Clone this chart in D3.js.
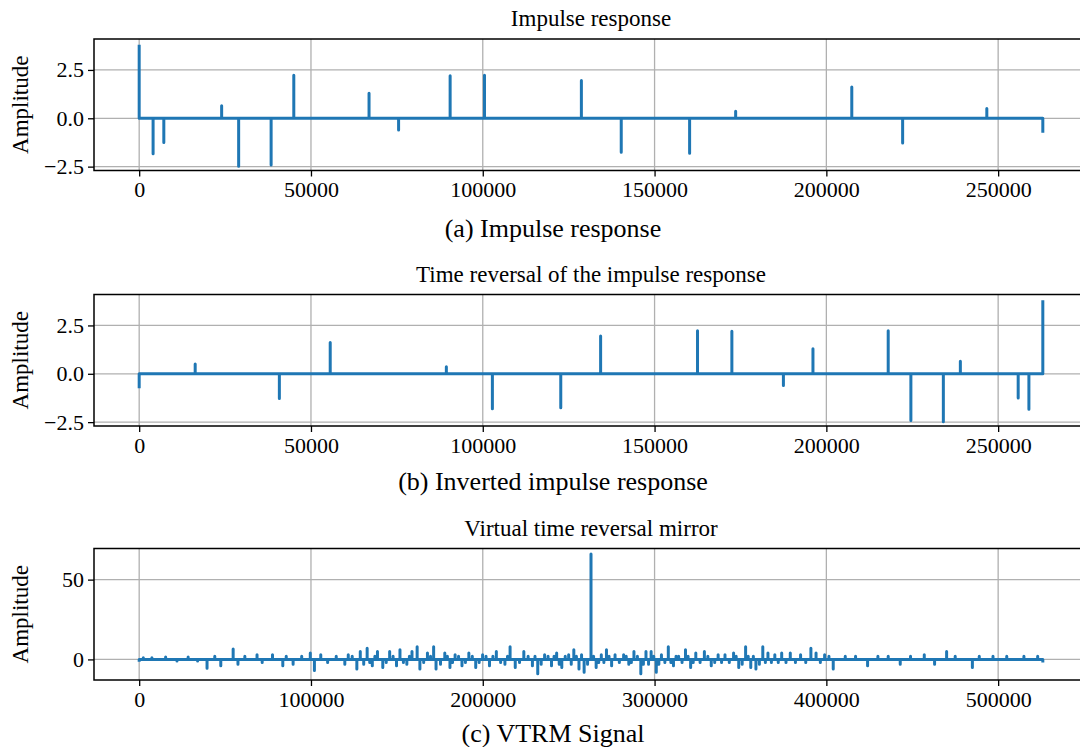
<!DOCTYPE html>
<html>
<head>
<meta charset="utf-8">
<script src="https://cdn.jsdelivr.net/npm/d3@7"></script>
<style>
  body { margin: 0; background: #fff; }
  text { font-family: "Liberation Serif", "Times New Roman", serif; fill: #000; }
</style>
</head>
<body>
<svg id="fig" width="1080" height="747"></svg>
<script>
// ---- data ----
var irLength = 263000;
var irX = [0, 4050, 7170, 24000, 28950, 38400, 45000, 66900, 75500, 90500, 100500,
           128700, 140300, 160200, 173600, 207400, 222200, 246700, 263000];
var irY = [3.8, -1.84, -1.25, 0.65, -2.48, -2.41, 2.23, 1.3, -0.61, 2.2, 2.23,
           1.95, -1.76, -1.81, 0.37, 1.62, -1.28, 0.51, -0.75];

var invX = [0, 16300, 40800, 55600, 89400, 102800, 122700, 134300, 162500, 172500,
            187500, 196100, 218000, 224600, 234050, 239000, 255830, 258950, 263000];
var invY = [-0.75, 0.51, -1.28, 1.62, 0.37, -1.81, -1.76, 1.95, 2.23, 2.2,
            -0.61, 1.3, 2.23, -2.41, -2.48, 0.65, -1.25, -1.84, 3.8];

var vtrmLength = 526000;
// bigger spikes of the VTRM signal
var vtrmSpikes = [
  [0,-1.5],[2400,1],[7400,1],[15400,1.5],[22000,-1],[28500,1.5],[34000,-1],[39500,-5.5],
  [44000,2],[47500,-4],[54700,6.5],[57500,-3],[61500,2],[68600,3],[71600,-2],[77600,3],
  [83600,-4],[85600,2],[89600,-3],[94600,2],[99600,4],[102000,-7],[105700,3],[109700,-2],
  [114700,2],[119700,-3],[121700,3],[126700,-6],[128700,5],[130700,-3],[132700,7],[135700,-4],
  [138700,5],[141800,-5],[145800,5],[149800,-4],[151800,6],[155800,-3],[158800,5],[161800,8],
  [163400,-6],[167800,4],[171400,8],[172800,-6],[177900,4],[180900,-5],[183900,3],[187900,-4],
  [191900,4],[195900,-5],[199900,3],[203900,-4],[207900,5],[212900,-3],[215900,8],[218900,-5],
  [223900,5],[228900,-4],[232000,-9],[236000,3],[240000,-4],[243000,4],[246000,-5],[250000,3],
  [253000,6],[256000,-6],[259000,-8],[263000,66],[266000,-5],[269000,3],[272000,6],[275000,-4],
  [277000,3],[282000,3],[285000,-3],[288000,5],[292000,-9],[295000,5],[298000,5],[301000,-8],
  [304000,3],[308000,8],[311000,-4],[314000,2],[318000,6],[321000,-5],[324000,4],[329000,5],
  [333000,-4],[337000,3],[341000,3],[346000,4],[349000,-5],[353000,8],[356000,-5],[359000,-6],
  [363000,8],[366000,4],[370000,3],[374000,4],[379000,4],[385000,3],[391000,7],[394000,4],
  [399000,3],[404000,-6],[411000,2],[417000,2],[424000,-4],[430000,2],[436000,2],[443000,-3],
  [449000,2],[457000,3],[463000,-3],[470000,5],[475000,2],[485000,-5],[489000,2],[497000,2],
  [505000,2],[515000,2],[523000,2],[526000,-2]
];
// small wiggles in the busy middle part
var vtrmSmall = [
  [124000,2],[134200,-2],[137200,2],[143800,-2],[147800,2],[153800,-2],[157300,2],[165600,-2],
  [169600,2],[175400,-3],[179400,2],[182400,-2],[185900,2],[189900,-2],[193900,2],[197900,-2],
  [201900,2],[205900,2],[210400,-2],[214400,2],[221400,-2],[226400,2],[230400,2],[234000,-3],
  [238000,2],[241500,2],[244500,-3],[248000,2],[251500,-3],[254500,2],[257500,3],[261000,-3],
  [264500,2],[267500,-2],[270500,-2],[273500,2],[279500,-2],[283500,2],[286500,-2],[290000,2],
  [293500,-3],[296500,-3],[299500,2],[302500,-3],[306000,-2],[309500,-2],[312500,2],[316000,-2],
  [319500,2],[322500,-2],[326500,-2],[331000,2],[335000,-2],[339000,-2],[343500,-2],[347500,2],
  [351000,-3],[354500,2],[357500,2],[361000,-3],[364500,-2],[368000,-2],[372000,-2],[376500,-2],
  [382000,-2],[388000,-2],[396500,-2],[401500,2]
];

var irTicksX = [0, 50000, 100000, 150000, 200000, 250000];
var irTicksY = [-2.5, 0, 2.5];
var vtrmTicksX = [0, 100000, 200000, 300000, 400000, 500000];
var vtrmTicksY = [0, 50];

var titles = ["Impulse response", "Time reversal of the impulse response", "Virtual time reversal mirror"];
var captions = ["(a) Impulse response", "(b) Inverted impulse response", "(c) VTRM Signal"];

// ---- layout ----
var svg = d3.select("#fig");
var left = 94, right = 1088, ph = 131.5;
var blue = "#1f77b4", grid = "#b0b0b0";

function spikePoints(xs, ys, n) {
  var pts = [];
  if (xs[0] !== 0) pts.push([0, 0]);
  xs.forEach(function(x, i) {
    if (x !== 0) pts.push([x, 0]);
    pts.push([x, ys[i]]);
    if (x !== n) pts.push([x, 0]);
  });
  if (xs[xs.length - 1] !== n) pts.push([n, 0]);
  return pts;
}

function panel(o) {
  var top = o.top, bottom = o.top + ph;
  var x = d3.scaleLinear().domain(o.xDomain).range([left, right]);
  var y = d3.scaleLinear().domain(o.yDomain).range([bottom, top]);
  var g = svg.append("g");

  g.selectAll(".vg").data(o.xTicks).enter().append("line")
      .attr("x1", function(d) { return x(d); }).attr("x2", function(d) { return x(d); })
      .attr("y1", top).attr("y2", bottom)
      .attr("stroke", grid).attr("stroke-width", 1.3);
  g.selectAll(".hg").data(o.yTicks).enter().append("line")
      .attr("x1", left).attr("x2", right)
      .attr("y1", function(d) { return y(d); }).attr("y2", function(d) { return y(d); })
      .attr("stroke", grid).attr("stroke-width", 1.3);

  var line = d3.line().x(function(d) { return x(d[0]); }).y(function(d) { return y(d[1]); });
  g.append("path")
      .datum(spikePoints(o.xs, o.ys, o.n))
      .attr("d", line)
      .attr("fill", "none")
      .attr("stroke", blue)
      .attr("stroke-width", 3)
      .attr("stroke-linejoin", "round");

  g.append("rect")
      .attr("x", left).attr("y", top)
      .attr("width", right - left).attr("height", ph)
      .attr("fill", "none").attr("stroke", "#000").attr("stroke-width", 1.5);

  var ax = g.append("g")
      .attr("transform", "translate(0," + bottom + ")")
      .call(d3.axisBottom(x).tickValues(o.xTicks).tickSize(6).tickPadding(5).tickFormat(d3.format("d")));
  var ay = g.append("g")
      .attr("transform", "translate(" + left + ",0)")
      .call(d3.axisLeft(y).tickValues(o.yTicks).tickSize(6).tickPadding(4).tickFormat(o.yFormat));
  [ax, ay].forEach(function(a) {
    a.select(".domain").remove();
    a.attr("font-family", null).attr("font-size", 22);
    a.selectAll("line").attr("stroke", "#000").attr("stroke-width", 1.3);
  });

  g.append("text")
      .attr("x", (left + right) / 2).attr("y", top - 13)
      .attr("text-anchor", "middle").attr("font-size", 23)
      .text(o.title);

  g.append("text")
      .attr("transform", "translate(28," + (top + ph / 2) + ") rotate(-90)")
      .attr("text-anchor", "middle").attr("font-size", 23)
      .text("Amplitude");

  g.append("text")
      .attr("x", 553).attr("y", o.captionY)
      .attr("text-anchor", "middle").attr("font-size", 26)
      .text(o.caption);
}

panel({ top: 39, xDomain: [-13150, 276150], yDomain: [-2.7, 4.1],
        xTicks: irTicksX, yTicks: irTicksY, yFormat: d3.format(".1f"),
        xs: irX, ys: irY, n: irLength,
        title: titles[0], caption: captions[0], captionY: 237 });

panel({ top: 294.5, xDomain: [-13150, 276150], yDomain: [-2.7, 4.1],
        xTicks: irTicksX, yTicks: irTicksY, yFormat: d3.format(".1f"),
        xs: invX, ys: invY, n: irLength,
        title: titles[1], caption: captions[1], captionY: 490 });

var vtrmAll = vtrmSpikes.concat(vtrmSmall).sort(function(a, b) { return a[0] - b[0]; });
panel({ top: 548.5, xDomain: [-26300, 552300], yDomain: [-12.9, 69.5],
        xTicks: vtrmTicksX, yTicks: vtrmTicksY, yFormat: d3.format("d"),
        xs: vtrmAll.map(function(d) { return d[0]; }),
        ys: vtrmAll.map(function(d) { return d[1]; }), n: vtrmLength,
        title: titles[2], caption: captions[2], captionY: 742 });
</script>
</body>
</html>
